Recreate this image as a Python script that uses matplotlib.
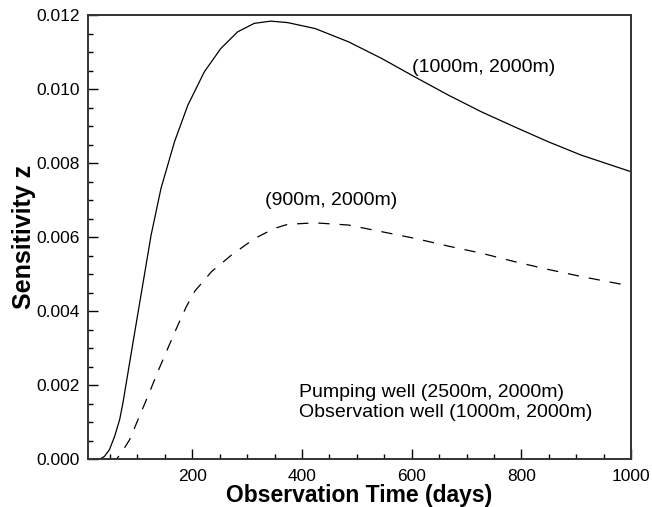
import numpy as np
import matplotlib.pyplot as plt
from matplotlib.ticker import MultipleLocator

plt.rcParams["font.family"] = ["Liberation Sans", "DejaVu Sans"]

# observation well (1000m, 2000m) - solid curve
t_solid = [10, 31, 40, 49, 58.5, 67.6, 73.6, 82.7, 91.8, 101, 110, 125, 143,
           167.6, 192, 222, 252, 282.7, 313, 343, 374, 424, 485, 545.5, 606,
           667, 727, 788, 849, 909, 1000]
z_solid = [0.0, 0.0, 0.00008, 0.00026, 0.00062, 0.00107, 0.00152, 0.00233,
           0.00314, 0.00395, 0.00474, 0.00606, 0.00732, 0.00858, 0.00957,
           0.01047, 0.0111, 0.01155, 0.01178, 0.01184, 0.0118, 0.01164,
           0.01128, 0.01083, 0.01033, 0.00984, 0.00939, 0.00898, 0.00858,
           0.00822, 0.00777]

# observation well (900m, 2000m) - dashed curve
t_dash = [10, 61.5, 70.6, 85.8, 101, 119, 137, 155.5, 173.6, 189, 205, 235,
          271.5, 314, 350, 374, 424, 485, 545.5, 606, 667, 727, 788, 849,
          909, 1000]
z_dash = [0.0, 0.0, 0.00017, 0.00053, 0.00107, 0.0017, 0.00236, 0.003,
          0.00362, 0.00412, 0.00455, 0.00507, 0.00552, 0.00597, 0.00624,
          0.00635, 0.00639, 0.00633, 0.00615, 0.00597, 0.00576, 0.00557,
          0.00534, 0.00513, 0.00494, 0.00468]

fig = plt.figure(figsize=(6.52, 5.07), dpi=100)
ax = fig.add_axes([0.135, 0.094, 0.833, 0.876])

ax.plot(t_solid, z_solid, color="black", linewidth=0.9, linestyle="solid",
        solid_joinstyle="round")
ax.plot(t_dash, z_dash, color="black", linewidth=0.9, linestyle=(0, (9, 8)),
        dash_joinstyle="round")

ax.set_xlim(10, 1000)
ax.set_ylim(0, 0.012)

ax.xaxis.set_major_locator(MultipleLocator(200))
ax.xaxis.set_minor_locator(MultipleLocator(50))
ax.yaxis.set_major_locator(MultipleLocator(0.002))
ax.yaxis.set_minor_locator(MultipleLocator(0.0005))
ax.yaxis.set_major_formatter(plt.FormatStrFormatter("%.3f"))

ax.tick_params(which="both", direction="in", top=False, right=False,
               labelsize=12.5, width=1)
ax.tick_params(which="major", length=7)
ax.tick_params(axis="x", which="major", pad=7)
ax.tick_params(axis="y", which="major", pad=6)
ax.tick_params(which="minor", length=3.5)

for s in ax.spines.values():
    s.set_linewidth(1.4)
    s.set_color("#333333")

ax.set_xlabel("Observation Time (days)", fontsize=16.5, fontweight="bold",
              labelpad=0)
ax.set_ylabel("Sensitivity z", fontsize=18, fontweight="bold", labelpad=0)

ax.text(601, 0.0106, "(1000m, 2000m)", fontsize=14, va="center")
ax.text(332, 0.0070, "(900m, 2000m)", fontsize=14, va="center")
ax.text(394, 0.00180, "Pumping well (2500m, 2000m)", fontsize=14, va="center")
ax.text(394, 0.00126, "Observation well (1000m, 2000m)", fontsize=14,
        va="center")

fig.savefig("out.png", dpi=100)
